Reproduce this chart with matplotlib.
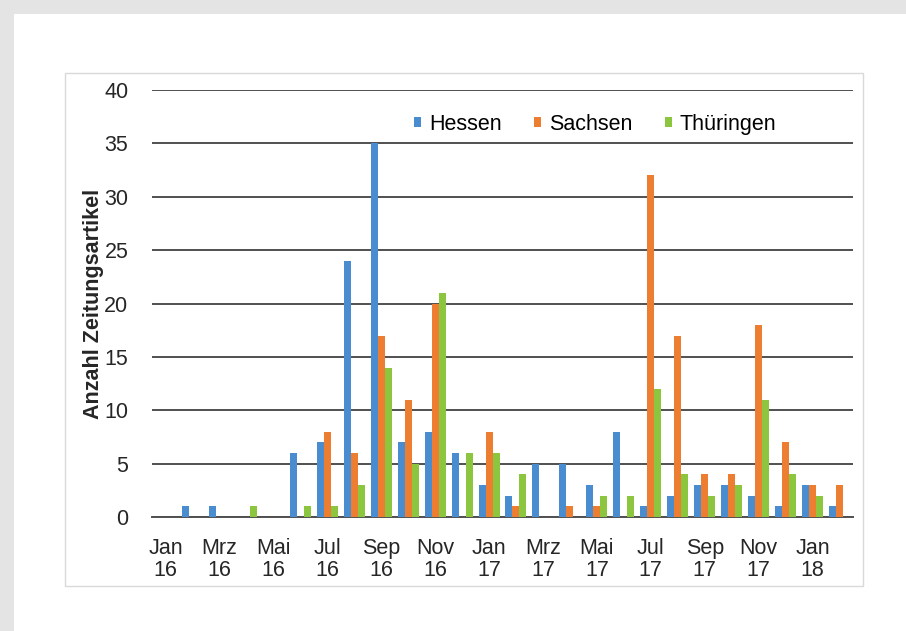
import numpy as np
import matplotlib.pyplot as plt
from matplotlib.patches import Rectangle

plt.rcParams['font.family'] = ['Liberation Sans', 'DejaVu Sans']

# Monate Jan 16 - Feb 18
monate = ["Jan\n16", "Feb\n16", "Mrz\n16", "Apr\n16", "Mai\n16", "Jun\n16",
          "Jul\n16", "Aug\n16", "Sep\n16", "Okt\n16", "Nov\n16", "Dez\n16",
          "Jan\n17", "Feb\n17", "Mrz\n17", "Apr\n17", "Mai\n17", "Jun\n17",
          "Jul\n17", "Aug\n17", "Sep\n17", "Okt\n17", "Nov\n17", "Dez\n17",
          "Jan\n18", "Feb\n18"]

hessen = [0, 1, 1, 0, 0, 6, 7, 24, 35, 7, 8, 6,
          3, 2, 5, 5, 3, 8, 1, 2, 3, 3, 2, 1, 3, 1]
sachsen = [0, 0, 0, 0, 0, 0, 8, 6, 17, 11, 20, 0,
           8, 1, 0, 1, 1, 0, 32, 17, 4, 4, 18, 7, 3, 3]
thueringen = [0, 0, 0, 1, 0, 1, 1, 3, 14, 5, 21, 6,
              6, 4, 0, 0, 2, 2, 12, 4, 2, 3, 11, 4, 2, 0]

fig = plt.figure(figsize=(9.06, 6.31), dpi=100)
fig.patch.set_facecolor("#e4e4e4")

# weisser Rahmen mit Schatten
fig.patches.append(Rectangle((16 / 906, 0), 1, (631 - 16) / 631, transform=fig.transFigure,
                             facecolor="#cfcfcf", edgecolor="none", zorder=-3))
fig.patches.append(Rectangle((14 / 906, 0), 1, (631 - 14) / 631, transform=fig.transFigure,
                             facecolor="white", edgecolor="none", zorder=-2))
# Diagrammrahmen
fig.patches.append(Rectangle((65 / 906, 45 / 631), 798 / 906, 513 / 631, transform=fig.transFigure,
                             facecolor="white", edgecolor="#d9d9d9", lw=1, zorder=-1))

ax = fig.add_axes([152 / 906, 114 / 631, 701 / 906, 427 / 631])
ax.set_facecolor("none")

x = np.arange(len(monate))
w = 0.26
ax.bar(x - w, hessen, w, color="#4A8CD0", label="Hessen", zorder=3)
ax.bar(x, sachsen, w, color="#ED7D31", label="Sachsen", zorder=3)
ax.bar(x + w, thueringen, w, color="#8CC63F", label="Thüringen", zorder=3)

ax.set_xlim(-0.5, len(monate) - 0.5)
ax.set_ylim(0, 40)
ax.set_yticks(range(0, 41, 5))
ax.yaxis.grid(True, color="#505050", lw=1.4)
ax.set_axisbelow(True)
for s in ["top", "right", "left"]:
    ax.spines[s].set_visible(False)
ax.spines["bottom"].set_color("#505050")
ax.spines["bottom"].set_linewidth(1.4)

fs = 15.5
ax.set_xticks(x[::2])
ax.set_xticklabels(monate[::2], fontsize=fs, color="#262626", linespacing=1.05)
ax.tick_params(axis="x", length=0, pad=15)
ax.tick_params(axis="y", length=0, pad=17, labelsize=fs, labelcolor="#262626")

ax.set_ylabel("Anzahl Zeitungsartikel", fontsize=fs, fontweight="bold", color="#262626")
ax.yaxis.set_label_coords(-0.068, 0.5)

ax.legend(loc="upper center", bbox_to_anchor=(0.632, 0.99), ncol=3, frameon=False,
          fontsize=fs, handlelength=0.35, handleheight=0.35, handletextpad=0.35,
          columnspacing=1.5)

fig.savefig("out.png", dpi=100, facecolor=fig.get_facecolor())
